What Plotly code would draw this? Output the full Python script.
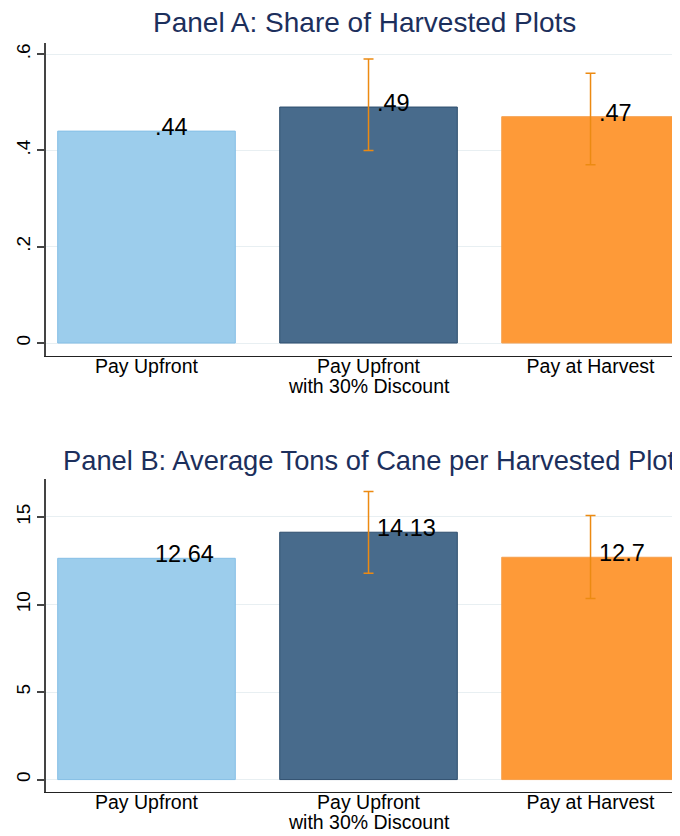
import plotly.graph_objects as go

categories = ["Pay Upfront", "Pay Upfront\nwith 30% Discount", "Pay at Harvest"]
share_values = [0.44, 0.49, 0.47]
share_labels = [".44", ".49", ".47"]
share_err_plus = [None, 0.10, 0.09]
share_err_minus = [None, 0.09, 0.10]
tons_values = [12.64, 14.13, 12.7]
tons_labels = ["12.64", "14.13", "12.7"]
tons_err_plus = [None, 2.33, 2.38]
tons_err_minus = [None, 2.34, 2.36]
bar_colors = ["#9ccdec", "#486b8c", "#fe9a38"]
line_colors = ["#86bfe6", "#2e4e6e", "#f6a04e"]
err_color = "#ec8a12"

share_ticks = [0, 0.2, 0.4, 0.6]
share_ticktext = ["0", ".2", ".4", ".6"]
tons_ticks = [0, 5, 10, 15]
tons_ticktext = ["0", "5", "10", "15"]

FONT = "Liberation Sans, Arial, sans-serif"
W, H = 672, 828   # page has an 8px body margin
xs = [0, 1, 2]
first_lines = [c.split("\n")[0] for c in categories]
second_lines = [c.split("\n")[1] if "\n" in c else "" for c in categories]

fig = go.Figure()

def add_panel(vals, ep, em, xa, ya):
    fig.add_trace(go.Bar(
        x=xs, y=vals, width=0.8,
        marker=dict(color=bar_colors, line=dict(color=line_colors, width=1)),
        xaxis=xa, yaxis=ya, showlegend=False, hoverinfo="skip"))
    ex = [x for x, p in zip(xs, ep) if p is not None]
    ey = [v for v, p in zip(vals, ep) if p is not None]
    fig.add_trace(go.Scatter(
        x=ex, y=ey, mode="markers", marker=dict(size=0.1, color=err_color),
        error_y=dict(type="data", symmetric=False,
                     array=[p for p in ep if p is not None],
                     arrayminus=[m for m in em if m is not None],
                     color=err_color, thickness=1.5, width=5),
        xaxis=xa, yaxis=ya, showlegend=False, hoverinfo="skip"))

add_panel(share_values, share_err_plus, share_err_minus, "x", "y")
add_panel(tons_values, tons_err_plus, tons_err_minus, "x2", "y2")

anns = []
for xa, ya, vals, labs in (("x", "y", share_values, share_labels),
                           ("x2", "y2", tons_values, tons_labels)):
    for x, v, t in zip(xs, vals, labs):
        anns.append(dict(x=x, y=v, xref=xa, yref=ya, text=t, showarrow=False,
                         xanchor="left", yanchor="middle", xshift=6, yshift=4,
                         font=dict(family=FONT, size=23.5, color="black")))
    for x, t in zip(xs, second_lines):
        if t:
            anns.append(dict(x=x, y=0, xref=xa, yref=ya + " domain", text=t,
                             showarrow=False, xanchor="center", yanchor="middle",
                             yshift=-30, borderpad=0,
                             font=dict(family=FONT, size=19.5, color="black")))

anns.append(dict(x=0.503, y=1 - 15 / H, xref="paper", yref="paper",
                 text="Panel A: Share of Harvested Plots", showarrow=False,
                 xanchor="center", yanchor="middle", borderpad=0,
                 font=dict(family=FONT, size=28, color="#1c2f5c")))
anns.append(dict(x=0.509, y=1 - 452 / H, xref="paper", yref="paper",
                 text="Panel B: Average Tons of Cane per Harvested Plot", showarrow=False,
                 xanchor="center", yanchor="middle", borderpad=0,
                 font=dict(family=FONT, size=27.3, color="#1c2f5c")))

xaxis_common = dict(range=[-0.4527, 2.403], tickmode="array", tickvals=xs, ticktext=first_lines,
                    showline=True, linecolor="#222222", linewidth=1.2, ticks="",
                    ticklabelstandoff=-8,
                    showgrid=False, zeroline=False,
                    tickfont=dict(family=FONT, size=19.5, color="black"))
yaxis_common = dict(showline=True, linecolor="#444444", linewidth=1.5, ticks="outside",
                    ticklen=7, tickcolor="#444444", tickwidth=1.5,
                    showgrid=True, gridcolor="#e8eff2", gridwidth=1, zeroline=False,
                    tickangle=-90, tickfont=dict(family=FONT, size=19, color="black"))

fig.update_layout(
    width=W, height=H,
    margin=dict(l=38, r=0, t=0, b=0),
    paper_bgcolor="white", plot_bgcolor="white",
    annotations=anns,
    xaxis=dict(domain=[0, 1], anchor="y", **xaxis_common),
    yaxis=dict(domain=[1 - 348 / H, 1 - 35 / H], anchor="x", range=[-0.027, 0.623],
               tickvals=share_ticks, ticktext=share_ticktext, **yaxis_common),
    xaxis2=dict(domain=[0, 1], anchor="y2", **xaxis_common),
    yaxis2=dict(domain=[1 - 784 / H, 1 - 471 / H], anchor="x2", range=[-0.71, 17.17],
                tickvals=tons_ticks, ticktext=tons_ticktext, **yaxis_common),
    bargap=0.2,
)

fig.write_html("out.html")
